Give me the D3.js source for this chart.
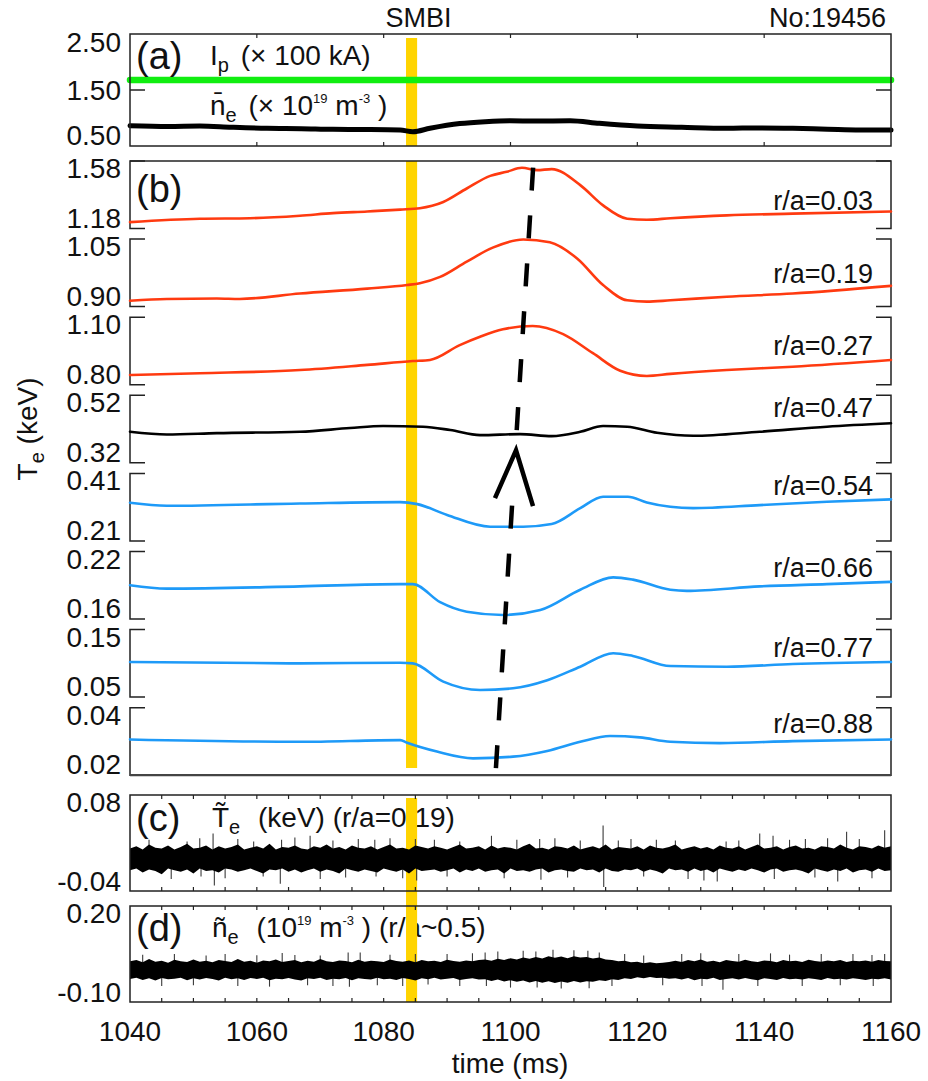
<!DOCTYPE html>
<html><head><meta charset="utf-8">
<script src="https://cdn.jsdelivr.net/npm/d3@7"></script>
<style>
body{margin:0;background:#fff}
svg{display:block;background:#fff}
text{font-family:"Liberation Sans",Arial,Helvetica,sans-serif;fill:#111}
</style>
</head><body>
<svg id="chart" width="928" height="1081"></svg>
<script>
// ---------------- DATA ----------------
const timeDomain = [1040, 1160];
const xTickValues = [1040, 1060, 1080, 1100, 1120, 1140, 1160];
const smbiTime = 1084.4, smbiWidthMs = 1.75;

// panel (a)
const aTickLabels = ["2.50", "1.50", "0.50"];
const aDomain = [0.5, 2.5];
const ipTime = [1040, 1160];
const ipValue = [1.68, 1.68];
const neTime = [1040, 1046, 1051, 1056, 1061.6, 1067, 1072, 1077, 1082.6, 1084.6, 1087.3, 1092, 1096, 1099.9, 1104, 1109.4, 1114, 1120, 1127, 1134.1, 1139, 1144.5, 1150, 1155.1, 1160];
const neValue = [0.862, 0.850, 0.857, 0.835, 0.816, 0.810, 0.798, 0.795, 0.786, 0.755, 0.816, 0.90, 0.935, 0.952, 0.945, 0.952, 0.905, 0.857, 0.835, 0.816, 0.823, 0.816, 0.800, 0.786, 0.786];

// panel (b) Te channels
const channelNames = ["r/a=0.03", "r/a=0.19", "r/a=0.27", "r/a=0.47", "r/a=0.54", "r/a=0.66", "r/a=0.77", "r/a=0.88"];
const channelTopLabels = ["1.58", "1.05", "1.10", "0.52", "0.41", "0.22", "0.15", "0.04"];
const channelBottomLabels = ["1.18", "0.90", "0.80", "0.32", "0.21", "0.16", "0.05", "0.02"];
const channelLabelValue = [1.288, 0.952, 0.932, 0.456, 0.346, 0.1973, 0.1094, 0.0325];

const te003T = [1040, 1051.0, 1058.9, 1066.8, 1072.0, 1077.4, 1082.6, 1085.7, 1089.4, 1093.1, 1096.8, 1099.4, 1101.8, 1104.2, 1106.5, 1111.0, 1114.6, 1118.4, 1121.5, 1125.2, 1134.1, 1144.5, 1160];
const te003 = [1.218, 1.238, 1.241, 1.256, 1.271, 1.281, 1.292, 1.300, 1.337, 1.417, 1.492, 1.516, 1.540, 1.526, 1.532, 1.437, 1.317, 1.238, 1.232, 1.241, 1.258, 1.268, 1.281];

const te019T = [1040, 1045.8, 1053.7, 1057.3, 1066.8, 1077.4, 1083.7, 1085.7, 1088.9, 1093.1, 1097.2, 1102.0, 1106.2, 1110.5, 1114.6, 1118.4, 1121.5, 1125.2, 1134.1, 1144.5, 1160];
const te019 = [0.913, 0.917, 0.918, 0.917, 0.929, 0.940, 0.948, 0.952, 0.966, 1.000, 1.031, 1.049, 1.043, 1.007, 0.948, 0.914, 0.911, 0.914, 0.922, 0.929, 0.946];

const te027T = [1040, 1051.0, 1066.8, 1077.4, 1084.6, 1087.3, 1092.0, 1095.2, 1098.8, 1103.5, 1108.3, 1113.0, 1117.3, 1121.5, 1125.2, 1134.1, 1144.5, 1160];
const te027 = [0.843, 0.851, 0.865, 0.888, 0.905, 0.910, 0.976, 1.013, 1.046, 1.061, 1.025, 0.940, 0.862, 0.839, 0.848, 0.865, 0.880, 0.910];

const te047T = [1040, 1045.8, 1053.7, 1066.8, 1074.7, 1079.9, 1086.2, 1090.5, 1095.2, 1101.5, 1106.5, 1111.0, 1114.6, 1118.4, 1123.1, 1128.8, 1139.3, 1149.9, 1160];
const te047 = [0.412, 0.404, 0.408, 0.412, 0.423, 0.429, 0.427, 0.417, 0.402, 0.405, 0.399, 0.412, 0.429, 0.427, 0.409, 0.400, 0.412, 0.427, 0.437];

const te054T = [1040, 1045.8, 1066.8, 1082.6, 1085.3, 1090.0, 1096.8, 1102.0, 1106.5, 1111.0, 1114.6, 1118.5, 1121.5, 1125.2, 1128.8, 1139.3, 1149.9, 1160];
const te054 = [0.323, 0.314, 0.321, 0.325, 0.319, 0.287, 0.252, 0.252, 0.260, 0.307, 0.341, 0.341, 0.324, 0.311, 0.307, 0.316, 0.326, 0.333];

const te066T = [1040, 1045.8, 1066.8, 1082.6, 1084.6, 1088.9, 1093.1, 1098.8, 1104.7, 1111.0, 1116.2, 1119.3, 1125.2, 1127.8, 1139.3, 1149.9, 1160];
const te066 = [0.190, 0.187, 0.189, 0.191, 0.191, 0.175, 0.1665, 0.1636, 0.168, 0.186, 0.197, 0.195, 0.186, 0.185, 0.189, 0.191, 0.193];

const te077T = [1040, 1066.8, 1082.6, 1084.6, 1089.4, 1095.2, 1100.4, 1105.8, 1111.0, 1116.2, 1119.3, 1125.2, 1134.1, 1144.5, 1160];
const te077 = [0.102, 0.100, 0.101, 0.100, 0.073, 0.0605, 0.063, 0.075, 0.095, 0.115, 0.111, 0.096, 0.095, 0.099, 0.102];

const te088T = [1040, 1066.8, 1082.6, 1083.7, 1088.4, 1094.1, 1100.4, 1105.8, 1111.0, 1115.7, 1120.4, 1125.2, 1133.0, 1144.5, 1160];
const te088 = [0.0306, 0.0299, 0.0304, 0.0296, 0.0270, 0.0250, 0.0255, 0.0272, 0.0299, 0.0316, 0.0312, 0.0299, 0.0295, 0.0301, 0.0306];

// dashed propagation arrow (time, fraction of panel b height from bottom)
const arrowLowT = [1097.70, 1100.27], arrowLowF = [0.0114, 0.443];
const arrowHighT = [1100.98, 1103.63], arrowHighF = [0.562, 1.0];
const arrowHeadT = [1097.55, 1100.87, 1103.55], arrowHeadF = [0.451, 0.529, 0.438];

// panel (c) fluctuation Te (keV): core envelope, every 1 ms from 1040
const cTickLabels = ["0.08", "-0.04"];
const cDomain = [-0.04, 0.08];
const cHigh = [0.013,0.016,0.012,0.018,0.014,0.013,0.017,0.012,0.015,0.019,
0.013,0.014,0.017,0.012,0.016,0.013,0.015,0.018,0.012,0.014,
0.016,0.013,0.019,0.012,0.015,0.014,0.017,0.013,0.012,0.016,
0.014,0.018,0.013,0.015,0.012,0.017,0.014,0.013,0.016,0.012,
0.015,0.018,0.013,0.014,0.012,0.017,0.015,0.013,0.016,0.014,
0.012,0.015,0.018,0.013,0.014,0.016,0.012,0.017,0.013,0.015,
0.014,0.012,0.016,0.019,0.013,0.014,0.012,0.016,0.015,0.013,
0.017,0.012,0.014,0.016,0.013,0.018,0.012,0.015,0.014,0.013,
0.016,0.012,0.017,0.014,0.013,0.015,0.018,0.012,0.014,0.016,
0.013,0.015,0.012,0.017,0.014,0.013,0.016,0.012,0.015,0.018,
0.013,0.014,0.016,0.012,0.015,0.017,0.013,0.014,0.012,0.016,
0.015,0.013,0.018,0.014,0.012,0.016,0.015,0.013,0.017,0.014,
0.016];
const cLow = [-0.014,-0.012,-0.017,-0.013,-0.015,-0.019,-0.012,-0.014,-0.016,-0.013,
-0.018,-0.012,-0.015,-0.014,-0.017,-0.012,-0.013,-0.016,-0.014,-0.012,
-0.015,-0.018,-0.013,-0.014,-0.012,-0.016,-0.013,-0.017,-0.014,-0.012,
-0.016,-0.013,-0.015,-0.018,-0.012,-0.014,-0.016,-0.013,-0.015,-0.017,
-0.012,-0.014,-0.016,-0.013,-0.018,-0.012,-0.015,-0.014,-0.013,-0.016,
-0.014,-0.012,-0.017,-0.013,-0.015,-0.012,-0.016,-0.014,-0.013,-0.018,
-0.012,-0.015,-0.014,-0.016,-0.013,-0.012,-0.017,-0.014,-0.013,-0.015,
-0.016,-0.012,-0.014,-0.013,-0.017,-0.012,-0.015,-0.016,-0.013,-0.014,
-0.012,-0.016,-0.013,-0.015,-0.018,-0.012,-0.014,-0.013,-0.016,-0.012,
-0.015,-0.013,-0.017,-0.012,-0.014,-0.016,-0.013,-0.015,-0.012,-0.014,
-0.017,-0.013,-0.012,-0.016,-0.014,-0.013,-0.015,-0.018,-0.012,-0.014,
-0.016,-0.013,-0.015,-0.012,-0.017,-0.014,-0.013,-0.016,-0.012,-0.015,
-0.014];
const cSpikeT = [1043,1046.5,1049,1051,1051.2,1053.1,1053.3,1055,1057,1059.5,1061,1063.7,1063.9,1066,1068.4,1070,1072,1074,1076,1078.6,1078.8,1081,1083,1085,1085.2,1088,1090,1092,1097,1099,1101,1104.6,1104.8,1107,1109,1111,1114.6,1114.7,1117,1119,1121,1123,1126,1128,1130.5,1132.6,1134,1136,1139.3,1141.4,1141.6,1144,1146.5,1148,1150,1151.6,1153,1155,1157,1159];
const cSpikeV = [0.024,-0.025,0.022,0.026,-0.022,0.032,-0.033,-0.024,0.025,0.022,-0.022,-0.031,0.024,0.027,0.029,-0.025,0.023,-0.023,0.025,0.024,-0.022,0.026,-0.024,0.025,-0.027,0.024,-0.022,0.022,0.029,-0.024,0.024,0.025,-0.026,0.026,-0.023,0.023,0.042,-0.035,0.023,0.025,-0.022,0.024,0.023,-0.025,-0.027,-0.028,0.022,0.023,0.032,0.029,-0.025,0.024,0.025,-0.023,0.026,-0.028,0.034,0.025,-0.024,0.036];

// panel (d) fluctuation ne: core envelope, every 1 ms from 1040
const dTickLabels = ["0.20", "-0.10"];
const dDomain = [-0.10, 0.20];
const dHigh = [0.027,0.031,0.024,0.034,0.026,0.029,0.023,0.032,0.027,0.025,
0.033,0.026,0.029,0.024,0.031,0.028,0.025,0.034,0.026,0.029,
0.023,0.030,0.027,0.033,0.025,0.028,0.031,0.024,0.029,0.026,
0.034,0.027,0.025,0.030,0.028,0.024,0.032,0.026,0.029,0.027,
0.025,0.033,0.028,0.026,0.030,0.024,0.031,0.027,0.029,0.025,
0.032,0.028,0.026,0.030,0.027,0.031,
0.033,0.029,0.035,0.031,0.037,0.033,0.039,0.035,0.041,0.036,
0.043,0.038,0.042,0.037,0.043,0.039,0.041,0.036,0.039,0.033,
0.031,0.027,0.029,0.024,0.026,0.021,0.024,0.021,0.023,0.025,
0.029,0.025,0.031,0.027,0.033,0.026,0.029,0.024,0.031,0.028,
0.026,0.032,0.027,0.025,0.030,0.028,0.024,0.031,0.027,0.029,
0.025,0.032,0.028,0.026,0.030,0.027,0.031,0.025,0.029,0.027,
0.030,0.026,0.031,0.028,0.027];
const dLow = [-0.028,-0.024,-0.031,-0.026,-0.033,-0.025,-0.029,-0.027,-0.024,-0.032,
-0.026,-0.030,-0.025,-0.028,-0.033,-0.024,-0.029,-0.026,-0.031,-0.025,
-0.028,-0.024,-0.032,-0.027,-0.029,-0.025,-0.030,-0.033,-0.026,-0.028,
-0.024,-0.031,-0.027,-0.029,-0.025,-0.032,-0.026,-0.028,-0.030,-0.024,
-0.029,-0.027,-0.031,-0.025,-0.028,-0.033,-0.026,-0.029,-0.024,-0.030,
-0.027,-0.025,-0.031,-0.028,-0.026,-0.030,
-0.029,-0.034,-0.030,-0.036,-0.032,-0.037,-0.033,-0.039,-0.034,-0.040,
-0.035,-0.041,-0.036,-0.040,-0.034,-0.039,-0.035,-0.037,-0.032,-0.034,
-0.029,-0.031,-0.026,-0.028,-0.023,-0.026,-0.022,-0.025,-0.024,-0.027,
-0.026,-0.030,-0.025,-0.032,-0.027,-0.029,-0.024,-0.031,-0.028,-0.026,
-0.030,-0.025,-0.029,-0.032,-0.026,-0.028,-0.031,-0.025,-0.029,-0.027,
-0.030,-0.026,-0.028,-0.031,-0.025,-0.029,-0.027,-0.030,-0.026,-0.028,
-0.031,-0.027,-0.029,-0.026,-0.030];
const dSpikeT = [1042,1045,1047,1050,1052,1055,1057,1060,1062,1064,1066,1068,1070,1072,1074.4,1074.6,1076.3,1079,1081,1083,1085,1087,1090,1092,1094,1096,1096.2,1098,1100,1102,1104,1104.2,1106.7,1108,1110,1112.2,1112.4,1114,1116,1118,1121,1124,1127,1130,1130.2,1133.5,1136,1139,1141,1144,1146,1149,1152,1154,1157,1157.2,1159];
const dSpikeV = [0.048,-0.05,0.05,-0.048,0.045,0.05,-0.05,0.046,-0.052,0.053,0.047,-0.048,0.045,-0.05,0.055,-0.052,0.055,-0.048,0.048,-0.05,0.05,-0.045,0.05,-0.05,0.052,0.055,-0.05,0.058,-0.055,0.06,0.058,-0.055,0.063,-0.058,0.062,0.06,-0.057,0.055,-0.05,0.05,0.045,-0.048,0.05,0.052,-0.05,-0.062,0.05,-0.05,0.052,0.048,-0.05,0.05,-0.048,0.05,0.047,-0.05,0.05];

// ---------------- STYLE / LAYOUT ----------------
const RED = "#ff3a10", BLUE = "#1e9af8", YELLOW = "#ffd400", GREEN = "#10ee10";
const channelColors = [RED, RED, RED, "#000", BLUE, BLUE, BLUE, BLUE];
const channelT = [te003T, te019T, te027T, te047T, te054T, te066T, te077T, te088T];
const channelV = [te003, te019, te027, te047, te054, te066, te077, te088];

const X0 = 130, X1 = 891, FS = 28;
const A = {top: 34, bot: 146};
const B = {top: 161, pitch: 78.1, h: 67.5};
const C = {top: 795, bot: 891};
const D = {top: 906, bot: 1002};
const FRAME = "#222";

const svg = d3.select("#chart");
const x = d3.scaleLinear().domain(timeDomain).range([X0, X1]);

function frame(top, bot) {
  svg.append("rect").attr("x", X0).attr("y", top).attr("width", X1 - X0).attr("height", bot - top)
    .attr("fill", "none").attr("stroke", FRAME).attr("stroke-width", 1.5);
}
function xTicks(top, bot, values, len) {
  values.forEach(v => {
    if (v <= timeDomain[0] || v >= timeDomain[1]) return;
    svg.append("line").attr("x1", x(v)).attr("x2", x(v)).attr("y1", top).attr("y2", top + len).attr("stroke", FRAME).attr("stroke-width", 1.2);
    svg.append("line").attr("x1", x(v)).attr("x2", x(v)).attr("y1", bot).attr("y2", bot - len).attr("stroke", FRAME).attr("stroke-width", 1.2);
  });
}
function yLabel(txt, yBase) {
  svg.append("text").attr("x", 121).attr("y", yBase).attr("text-anchor", "end").attr("font-size", FS).text(txt);
}
function yTickMark(y) {
  svg.append("line").attr("x1", X0).attr("x2", X0 + 15).attr("y1", y).attr("y2", y).attr("stroke", FRAME).attr("stroke-width", 1.5);
  svg.append("line").attr("x1", X1 - 15).attr("x2", X1).attr("y1", y).attr("y2", y).attr("stroke", FRAME).attr("stroke-width", 1.5);
}
function yellowBar(top, bot) {
  svg.append("rect").attr("x", x(smbiTime - smbiWidthMs / 2)).attr("width", x(smbiTime + smbiWidthMs / 2) - x(smbiTime - smbiWidthMs / 2))
    .attr("y", top).attr("height", bot - top).attr("fill", YELLOW);
}
function seriesLine(ts, vs, yScale, color, width, curve) {
  const pts = ts.map((t, i) => [t, vs[i]]);
  svg.append("path").datum(pts)
    .attr("d", d3.line().x(d => x(d[0])).y(d => yScale(d[1])).curve(curve || d3.curveMonotoneX))
    .attr("fill", "none").attr("stroke", color).attr("stroke-width", width)
    .attr("stroke-linejoin", "round").attr("stroke-linecap", "round");
}

// ---------------- TOP TEXT ----------------
svg.append("text").attr("x", x(smbiTime) + 7).attr("y", 27).attr("text-anchor", "middle").attr("font-size", 27).text("SMBI");
svg.append("text").attr("x", 886).attr("y", 27).attr("text-anchor", "end").attr("font-size", 27).text("No:19456");

// ---------------- PANEL (a) ----------------
const ya = d3.scaleLinear().domain(aDomain).range([A.bot, A.top]);
yellowBar(38, A.bot);
seriesLine(ipTime, ipValue, ya, GREEN, 6.5, d3.curveLinear);
seriesLine(neTime, neValue, ya, "#000", 5);
frame(A.top, A.bot);
xTicks(A.top, A.bot, xTickValues, 4);
yTickMark(ya(1.5));
yLabel(aTickLabels[0], A.top + 18);
yLabel(aTickLabels[1], ya(1.5) + 10);
yLabel(aTickLabels[2], A.bot - 1);
svg.append("text").attr("x", 136).attr("y", 69).attr("font-size", 38).text("(a)");
{
  const t = svg.append("text").attr("x", 210).attr("y", 65).attr("font-size", 28);
  t.append("tspan").text("I");
  t.append("tspan").attr("font-size", 20).attr("dy", 7).text("p");
  t.append("tspan").attr("dy", -7).attr("dx", 4).text(" (\u00d7 100 kA)");
  const n = svg.append("text").attr("x", 210).attr("y", 115).attr("font-size", 28);
  n.append("tspan").text("n\u0304");
  n.append("tspan").attr("font-size", 20).attr("dy", 7).text("e");
  n.append("tspan").attr("dy", -7).attr("dx", 4).text(" (\u00d7 10");
  n.append("tspan").attr("font-size", 13).attr("dy", -12).text("19");
  n.append("tspan").attr("dy", 12).text(" m");
  n.append("tspan").attr("font-size", 13).attr("dy", -12).text("-3");
  n.append("tspan").attr("dy", 12).text(" )");
}

// ---------------- PANEL (b) ----------------
const bBottom = B.top + B.pitch * 7 + B.h;
yellowBar(B.top, 768);
channelNames.forEach((name, i) => {
  const top = B.top + B.pitch * i, bot = top + B.h;
  const dom = [+channelBottomLabels[i], +channelTopLabels[i]];
  const y = d3.scaleLinear().domain(dom).range([bot, top]);
  [0, 1].forEach(k => {
    const xv = k === 0 ? X0 : X1, xe = k === 0 ? X0 + 15 : X1 - 15;
    svg.append("path").attr("d", `M${xe},${top}H${xv}V${bot}H${xe}`)
      .attr("fill", "none").attr("stroke", FRAME).attr("stroke-width", 1.5);
  });
  seriesLine(channelT[i], channelV[i], y, channelColors[i], 2.6);
  yLabel(channelTopLabels[i], top + 17);
  yLabel(channelBottomLabels[i], bot - 1);
  svg.append("text").attr("x", 873).attr("y", y(channelLabelValue[i])).attr("text-anchor", "end").attr("font-size", 27).text(name);
});
svg.append("line").attr("x1", X0).attr("x2", X1).attr("y1", B.top).attr("y2", B.top).attr("stroke", FRAME).attr("stroke-width", 1.5);
svg.append("line").attr("x1", X0).attr("x2", X1).attr("y1", bBottom).attr("y2", bBottom).attr("stroke", "#444").attr("stroke-width", 2.2);
svg.append("text").attr("x", 136).attr("y", 202).attr("font-size", 38).text("(b)");

// arrow
const yb = d3.scaleLinear().domain([0, 1]).range([bBottom, B.top]);
[[arrowLowT, arrowLowF], [arrowHighT, arrowHighF]].forEach(([ts, fs]) => {
  svg.append("line").attr("x1", x(ts[0])).attr("y1", yb(fs[0])).attr("x2", x(ts[1])).attr("y2", yb(fs[1]))
    .attr("stroke", "#000").attr("stroke-width", 4.5).attr("stroke-dasharray", "23,25");
});
svg.append("path").datum(arrowHeadT.map((t, i) => [t, arrowHeadF[i]]))
  .attr("d", d3.line().x(d => x(d[0])).y(d => yb(d[1])))
  .attr("fill", "none").attr("stroke", "#000").attr("stroke-width", 4.5).attr("stroke-linejoin", "miter");

// y title
{
  const t = svg.append("text").attr("transform", "translate(37,429) rotate(-90)").attr("text-anchor", "middle").attr("font-size", 28);
  t.append("tspan").text("T");
  t.append("tspan").attr("font-size", 20).attr("dy", 7).text("e");
  t.append("tspan").attr("dy", -7).text("  (keV)");
}

// ---------------- PANELS (c), (d) ----------------
function noisePanel(P, domain, hi, lo, spT, spV, labels) {
  const y = d3.scaleLinear().domain(domain).range([P.bot, P.top]);
  const step = (timeDomain[1] - timeDomain[0]) / (hi.length - 1);
  const grid = hi.map((_, i) => timeDomain[0] + i * step);
  spT.forEach((t, i) => {
    svg.append("line").attr("x1", x(t)).attr("x2", x(t)).attr("y1", y(0)).attr("y2", y(spV[i]))
      .attr("stroke", "#3a3a3a").attr("stroke-width", 1.1);
  });
  svg.append("path").datum(grid.map((t, i) => [t, hi[i], lo[i]]))
    .attr("d", d3.area().x(d => x(d[0])).y0(d => y(d[2])).y1(d => y(d[1])).curve(d3.curveLinear))
    .attr("fill", "#000");
  frame(P.top, P.bot);
  xTicks(P.top, P.bot, d3.range(1045, 1160, 5), 4);
  yLabel(labels[0], P.top + 17);
  yLabel(labels[1], P.bot);
  return y;
}
svg.append("text").attr("x", 136).attr("y", 831).attr("font-size", 38).text("(c)");
{
  const t = svg.append("text").attr("x", 212).attr("y", 827).attr("font-size", 28);
  t.append("tspan").text("T\u0303");
  t.append("tspan").attr("font-size", 20).attr("dy", 7).text("e");
  t.append("tspan").attr("dy", -7).attr("dx", 10).text(" (keV) (r/a=0.19)");
}
svg.append("text").attr("x", 136).attr("y", 941).attr("font-size", 38).text("(d)");
{
  const t = svg.append("text").attr("x", 212).attr("y", 937).attr("font-size", 28);
  t.append("tspan").text("\u00f1");
  t.append("tspan").attr("font-size", 20).attr("dy", 7).text("e");
  t.append("tspan").attr("dy", -7).attr("dx", 10).text(" (10");
  t.append("tspan").attr("font-size", 13).attr("dy", -12).text("19");
  t.append("tspan").attr("dy", 12).text(" m");
  t.append("tspan").attr("font-size", 13).attr("dy", -12).text("-3");
  t.append("tspan").attr("dy", 12).text(" ) (r/a~0.5)");
}
yellowBar(798, D.bot);
noisePanel(C, cDomain, cHigh, cLow, cSpikeT, cSpikeV, cTickLabels);
noisePanel(D, dDomain, dHigh, dLow, dSpikeT, dSpikeV, dTickLabels);

// x axis labels
xTickValues.forEach(v => {
  svg.append("text").attr("x", x(v)).attr("y", 1041).attr("text-anchor", "middle").attr("font-size", FS).text(v);
});
svg.append("text").attr("x", 510).attr("y", 1073).attr("text-anchor", "middle").attr("font-size", FS).text("time (ms)");
</script>
</body></html>
